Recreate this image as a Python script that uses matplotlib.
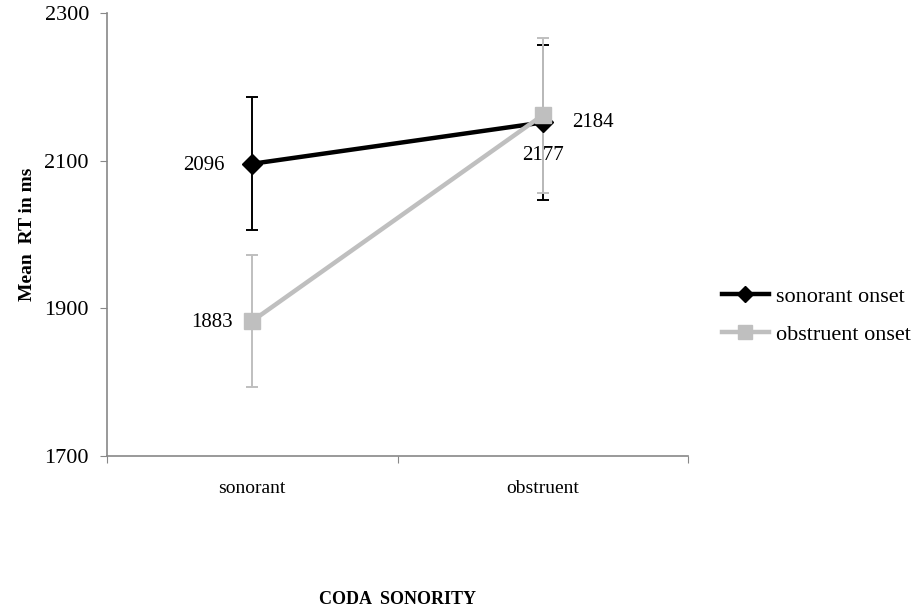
import matplotlib.pyplot as plt
from matplotlib.lines import Line2D

plt.rcParams['font.family'] = ['Liberation Serif', 'DejaVu Serif']

# data (plotted positions)
categories = ["sonorant", "obstruent"]
sonorant_onset = [2096, 2152]
obstruent_onset = [1883, 2162]
sonorant_err = [90, 105]
obstruent_err = [90, 105]
# data label texts as printed on the chart
sonorant_labels = ["2096", "2177"]
obstruent_labels = ["1883", "2184"]

BLACK = "#000000"
GREY = "#bfbfbf"
AXIS = "#888888"

fig = plt.figure(figsize=(9.18, 6.15), dpi=100)
ax = fig.add_axes([0.1166, 0.2585, 0.633, 0.720])

x = list(range(len(categories)))

ax.errorbar(x, obstruent_onset, yerr=obstruent_err, fmt="none",
            ecolor=GREY, elinewidth=1.4, capsize=4, capthick=1.4, zorder=2)
ax.errorbar(x, sonorant_onset, yerr=sonorant_err, fmt="none",
            ecolor=BLACK, elinewidth=1.4, capsize=4, capthick=1.4, zorder=1)

ax.plot(x, sonorant_onset, color=BLACK, lw=3.2, marker="D", markersize=10,
        zorder=3)
ax.plot(x, obstruent_onset, color=GREY, lw=3.2, marker="s", markersize=12,
        zorder=4)

# data labels
ax.annotate(sonorant_labels[0], (x[0], sonorant_onset[0]), xytext=(-20, -1),
            textcoords="offset points", ha="right", va="center", fontsize=15)
ax.annotate(obstruent_labels[0], (x[0], obstruent_onset[0]), xytext=(-14, -1),
            textcoords="offset points", ha="right", va="center", fontsize=15)
ax.annotate(obstruent_labels[1], (x[1], obstruent_onset[1]), xytext=(21, -5),
            textcoords="offset points", ha="left", va="center", fontsize=15)
ax.annotate(sonorant_labels[1], (x[1], sonorant_onset[1]), xytext=(0, -24),
            textcoords="offset points", ha="center", va="center", fontsize=15)

ax.set_xlim(-0.5, 1.5)
ax.set_ylim(1700, 2300)
ax.set_yticks([1700, 1900, 2100, 2300])
ax.set_xticks([-0.5, 0.5, 1.5])
ax.set_xticklabels([])
ax.set_xticks(x, minor=True)
ax.set_xticklabels(categories, minor=True)
ax.tick_params(axis="x", which="major", direction="out", length=5, color=AXIS)
ax.tick_params(axis="x", which="minor", length=0, pad=17, labelsize=14)
ax.tick_params(axis="y", direction="out", length=5, color=AXIS, labelsize=16, pad=8)

for s in ["top", "right"]:
    ax.spines[s].set_visible(False)
for s in ["left", "bottom"]:
    ax.spines[s].set_color(AXIS)
    ax.spines[s].set_linewidth(1.2)

ax.set_ylabel("Mean  RT in ms", fontsize=14, fontweight="bold", labelpad=6)
ax.set_xlabel("CODA  SONORITY", fontsize=13, fontweight="bold", labelpad=68)

handles = [
    Line2D([], [], color=BLACK, lw=3.2, marker="D", markersize=8),
    Line2D([], [], color=GREY, lw=3.2, marker="s", markersize=10),
]
fig.legend(handles, ["sonorant onset", "obstruent onset"], loc="center left",
           bbox_to_anchor=(0.786, 0.487), frameon=False, fontsize=16,
           handlelength=2.15, handletextpad=0.3, labelspacing=0.78,
           borderpad=0, borderaxespad=0)

fig.savefig("out.png", dpi=100)
